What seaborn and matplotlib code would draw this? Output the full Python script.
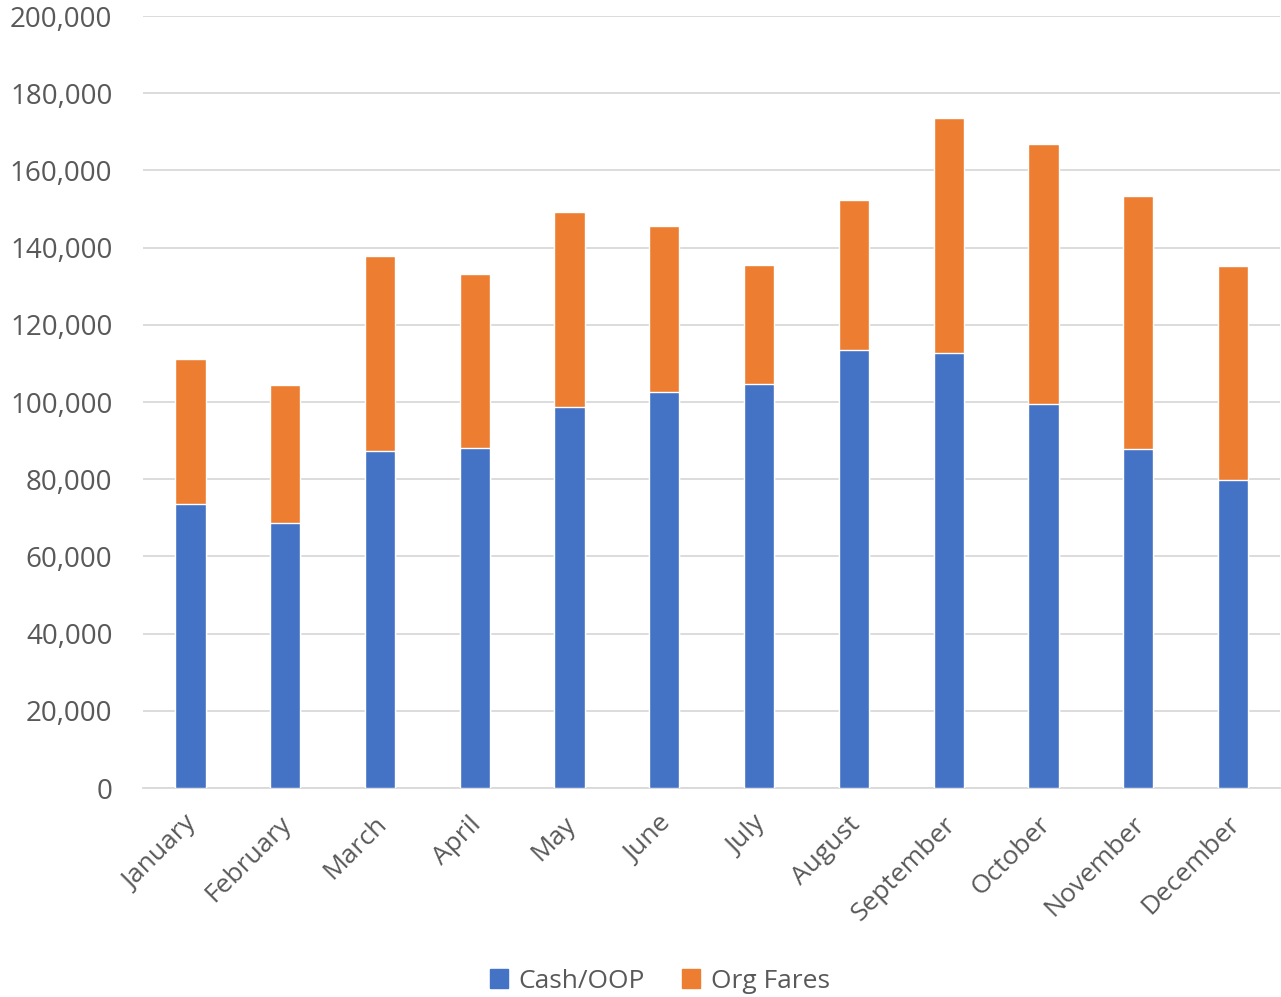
import numpy as np
import pandas as pd
import seaborn as sns
import matplotlib.pyplot as plt
from matplotlib.patches import Patch
from matplotlib.ticker import FuncFormatter
from matplotlib.transforms import ScaledTranslation

months = ["January", "February", "March", "April", "May", "June", "July",
          "August", "September", "October", "November", "December"]
cash_oop = [73.5, 68.7, 87.2, 88.2, 98.6, 102.7, 104.7, 113.4, 112.8, 99.4, 87.8, 79.8]
org_fares = [37.7, 35.6, 50.7, 45.0, 50.6, 42.9, 30.7, 39.0, 60.7, 67.4, 65.6, 55.5]

df = pd.DataFrame({
    "Month": months,
    "Cash/OOP": np.array(cash_oop) * 1000,
    "Org Fares": np.array(org_fares) * 1000,
})
df["Total"] = df["Cash/OOP"] + df["Org Fares"]

blue = "#4472C4"
orange = "#ED7D31"
grey = "#595959"

sns.set_style("white")
plt.rcParams["font.family"] = ["Open Sans", "DejaVu Sans"]

fig = plt.figure(figsize=(12.81, 9.97), dpi=100)
ax = fig.add_axes([0.1116, 0.2096, 0.888, 0.7743])

# stacked look: totals in orange, cash drawn over the bottom part
sns.barplot(data=df, x="Month", y="Total", color=orange, width=0.32,
            saturation=1, ax=ax, zorder=3)
sns.barplot(data=df, x="Month", y="Cash/OOP", color=blue, width=0.32,
            saturation=1, ax=ax, zorder=3)

ax.set_ylim(0, 200000)
ax.set_xlim(-0.5, 11.5)
ax.set_yticks(range(0, 200001, 20000))
ax.yaxis.set_major_formatter(FuncFormatter(lambda v, p: f"{int(v):,}"))
ax.grid(axis="y", color="#d9d9d9", linewidth=1.3, zorder=0)
ax.set_axisbelow(True)
for s in ["top", "right", "left"]:
    ax.spines[s].set_visible(False)
ax.spines["bottom"].set_color("#d9d9d9")
ax.spines["bottom"].set_linewidth(1.3)
ax.tick_params(axis="both", length=0, labelsize=19, labelcolor=grey)
ax.tick_params(axis="y", labelsize=20, pad=22)
ax.tick_params(axis="x", pad=17)
ax.set_xlabel("")
ax.set_ylabel("")
shift = ScaledTranslation(-6 / 100, 0, fig.dpi_scale_trans)
for lab in ax.get_xticklabels():
    lab.set_rotation(45)
    lab.set_ha("right")
    lab.set_rotation_mode("anchor")
    lab.set_transform(lab.get_transform() + shift)

handles = [Patch(color=blue, label="Cash/OOP"), Patch(color=orange, label="Org Fares")]
fig.legend(handles=handles, loc="center", bbox_to_anchor=(0.515, 0.016), ncol=2,
           frameon=False, fontsize=19, labelcolor=grey, handlelength=0.7,
           handleheight=0.7, handletextpad=0.4, columnspacing=1.4)

fig.savefig("out.png", dpi=100)
